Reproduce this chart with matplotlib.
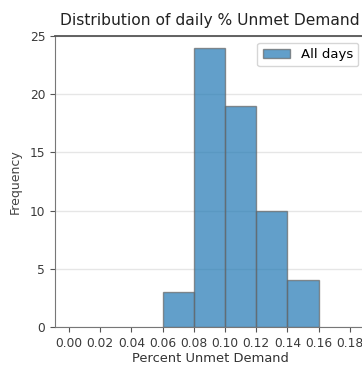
import numpy as np
import matplotlib
matplotlib.use("Agg")
import matplotlib.pyplot as plt

# histogram of daily unmet demand share
bin_edges = [0.06, 0.08, 0.10, 0.12, 0.14, 0.16]
counts = [3, 24, 19, 10, 4]
xticks = [0.00, 0.02, 0.04, 0.06, 0.08, 0.10, 0.12, 0.14, 0.16, 0.18]

fig = plt.figure(figsize=(3.62, 3.65), dpi=100)
ax = fig.add_axes([55 / 362, 38 / 365, 310 / 362, 291 / 365])

centers = np.array(bin_edges[:-1]) + 0.01
ax.hist(centers, bins=bin_edges, weights=counts, color="tab:blue",
        alpha=0.7, edgecolor="#666666", linewidth=1, label="All days", zorder=3)

ax.set_xlim(-0.009, 0.1897)
ax.set_ylim(0, 25)
ax.set_xticks(xticks)
ax.set_xticklabels([f"{t:.2f}" for t in xticks])
ax.set_yticks([0, 5, 10, 15, 20, 25])
ax.grid(axis="y", color="#e6e6e6", linewidth=1, zorder=0)
ax.tick_params(labelsize=8.8, length=3.5, color="#555555", labelcolor="#3a3a3a")
for s in ax.spines.values():
    s.set_color("#777777")
ax.spines["top"].set_color("#555555")
ax.spines["top"].set_linewidth(1.3)

ax.set_title("Distribution of daily % Unmet Demand", fontsize=11.2,
             color="#222222", pad=8)
ax.set_xlabel("Percent Unmet Demand", fontsize=9.4, color="#333333", labelpad=2)
ax.set_ylabel("Frequency", fontsize=9, color="#444444", labelpad=6)
ax.legend(loc="upper right", fontsize=9.5, handlelength=2.1)

fig.savefig("out.png", dpi=100)
